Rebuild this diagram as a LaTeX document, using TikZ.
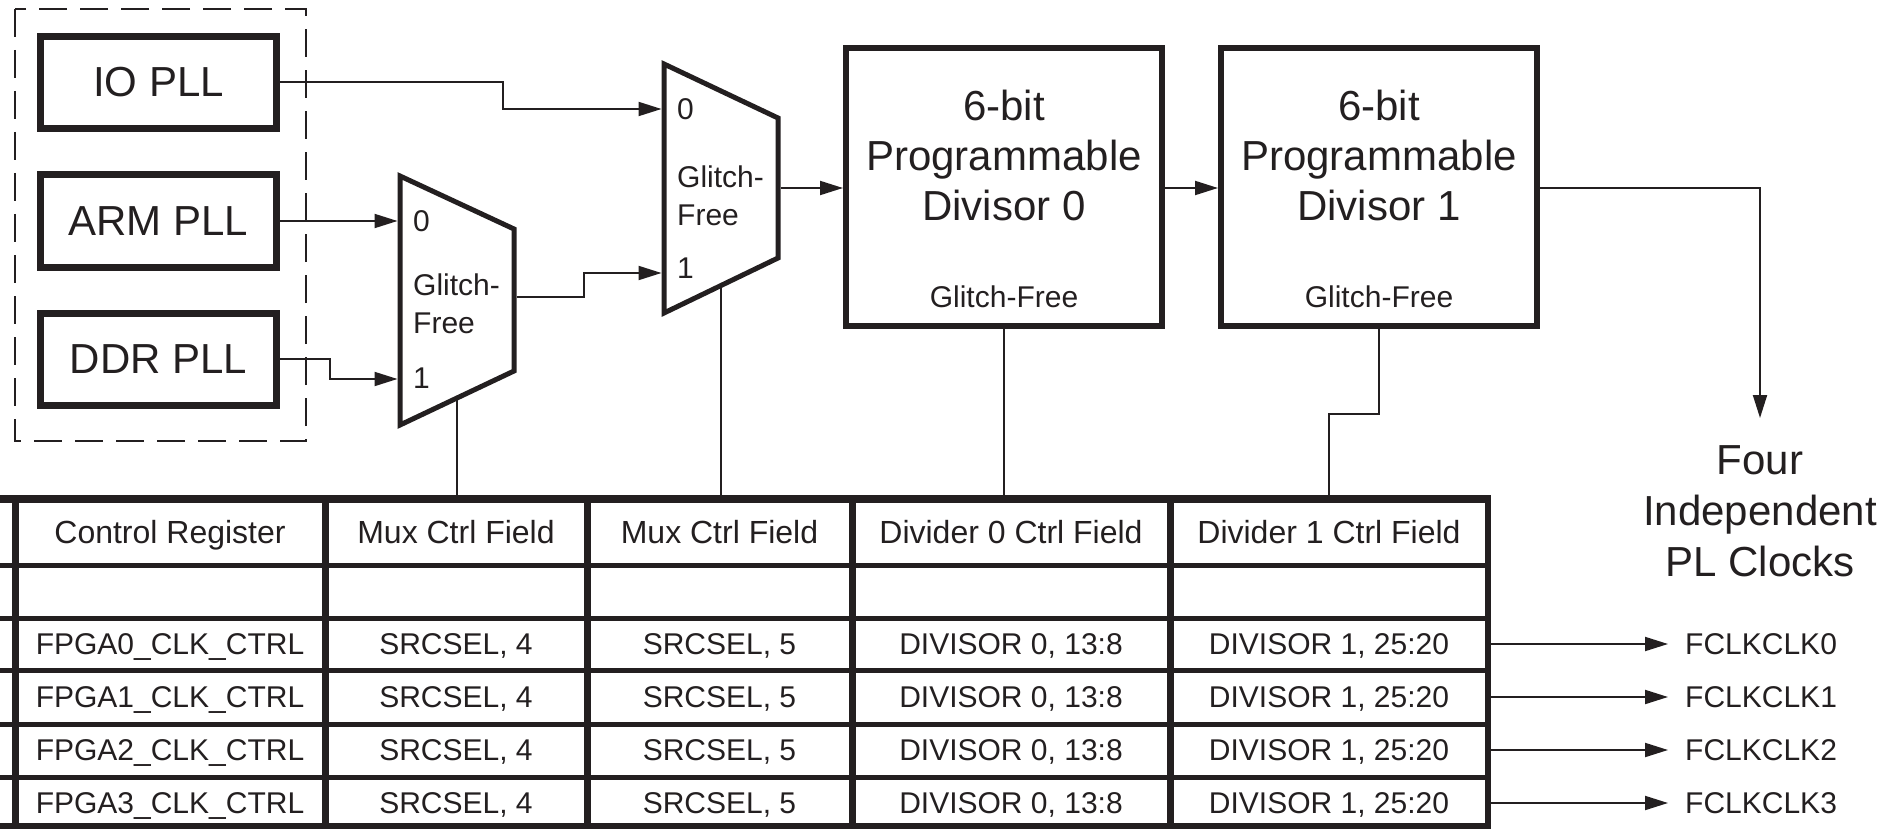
\documentclass[tikz,border=0pt]{standalone}
\usepackage{fontspec}
\setmainfont{Liberation Sans}
\usetikzlibrary{arrows.meta}
\definecolor{ink}{RGB}{35,31,32}
\begin{document}
\begin{tikzpicture}[x=1pt,y=-1pt,
  plain/.style={draw=ink, line width=2pt},
  arr/.style={plain, -{Triangle[length=23pt,width=14pt]}},
  pllbox/.style={draw=ink, line width=7pt, minimum width=236pt, minimum height=92pt, inner sep=0pt, font=\fontsize{42}{50}\selectfont, text=ink},
  divbox/.style={draw=ink, line width=6pt, minimum width=316pt, minimum height=278pt, inner sep=0pt},
  muxshape/.style={draw=ink, line width=5pt, line join=miter},
  big/.style={font=\fontsize{42}{50}\selectfont, align=center, inner sep=0pt, text=ink},
  small/.style={font=\fontsize{30}{37.5}\selectfont, inner sep=0pt, text=ink, text height=21.5pt, text depth=0pt},
  smallml/.style={font=\fontsize{30}{37.5}\selectfont, inner sep=0pt, text=ink, align=left},
  hdr/.style={font=\fontsize{32}{38}\selectfont, inner sep=0pt, text=ink, text height=22.9pt, text depth=0pt},
  cell/.style={font=\fontsize{30}{36}\selectfont, inner sep=0pt, text=ink, text height=21.5pt, text depth=0pt},
  tabthick/.style={draw=ink, line width=7pt},
  tabrow/.style={draw=ink, line width=5pt},
  dashbox/.style={draw=ink, line width=2.5pt, dash pattern=on 28pt off 13pt}
]
\useasboundingbox (0,0) rectangle (1903,829);

% PLL group
\draw[dashbox] (15,9) rectangle (306,441);
\node[pllbox] (io)  at (158.5,82.5) {IO PLL};
\node[pllbox] (arm) at (158.5,221) {ARM PLL};
\node[pllbox] (ddr) at (158.5,359) {DDR PLL};

% Mux 1
\draw[muxshape] (400,176) -- (514,229) -- (514,371) -- (400,425) -- cycle;
\coordinate (m1a) at (397.5,221);
\coordinate (m1b) at (397.5,379);
\coordinate (m1o) at (516.5,297);
\coordinate (m1s) at (457,398);
\node[small, anchor=west] (m1l0) at (413,221) {0};
\node[smallml, anchor=north west] (m1lg) at (413,274) {Glitch-\\Free};
\node[small, anchor=west] (m1l1) at (413,378) {1};

% Mux 2
\draw[muxshape] (664,64) -- (778,118) -- (778,258) -- (664,313) -- cycle;
\coordinate (m2a) at (661.5,109);
\coordinate (m2b) at (661.5,273);
\coordinate (m2o) at (780.5,188);
\coordinate (m2s) at (721,285.5);
\node[small, anchor=west] (m2l0) at (677,109) {0};
\node[smallml, anchor=north west] (m2lg) at (677,166) {Glitch-\\Free};
\node[small, anchor=west] (m2l1) at (677,268) {1};

% Divisors
\node[divbox] (d0) at (1004,187) {};
\node[big, anchor=north] (d0t) at (1004,90) {6-bit\\Programmable\\Divisor 0};
\node[small] (d0g) at (1004,297) {Glitch-Free};
\node[divbox] (d1) at (1379,187) {};
\node[big, anchor=north] (d1t) at (1379,90) {6-bit\\Programmable\\Divisor 1};
\node[small] (d1g) at (1379,297) {Glitch-Free};

% Output label
\node[big, anchor=north, font=\fontsize{42}{51}\selectfont] (four) at (1760,445) {Four\\Independent\\PL Clocks};
\coordinate (clkarr) at (1760,418);

% Connectors
\draw[arr] (io.east) -- ++(223,0) |- (m2a);
\draw[arr] (arm.east) -- (m1a);
\draw[arr] (ddr.east) -- ++(50,0) |- (m1b);
\draw[arr] (m1o) -- ++(67,0) |- (m2b);
\draw[arr] (m2o) -- (m2o -| d0.west);
\draw[arr] (m2o -| d0.east) -- (m2o -| d1.west);
\draw[arr] (m2o -| d1.east) -| (clkarr);

% Table
\coordinate (tabtop) at (0,495);
\coordinate (t4) at (1329,495);
\draw[tabthick, line width=8pt] (0,499) -- (1491,499);
\foreach \yy in {565,618,670,724,777} {\draw[tabrow] (0,\yy) -- (1488,\yy);}
\draw[tabthick, line width=6pt] (0,826) -- (1491,826);
\foreach \xx in {15,325,587,852,1170} {\draw[tabthick] (\xx,499) -- (\xx,829);}
\draw[tabthick, line width=6pt] (1488,495) -- (1488,829);

\node[hdr] (h1) at (170,532) {Control Register};
\node[hdr] (h2) at (456,532) {Mux Ctrl Field};
\node[hdr] (h3) at (719.5,532) {Mux Ctrl Field};
\node[hdr] (h4) at (1011,532) {Divider 0 Ctrl Field};
\node[hdr] (h5) at (1329,532) {Divider 1 Ctrl Field};

\foreach \i/\yy in {0/644,1/697,2/750,3/803} {
  \node[cell] (r\i c1) at (170,\yy) {FPGA\i\_CLK\_CTRL};
  \node[cell] (r\i c2) at (456,\yy) {SRCSEL, 4};
  \node[cell] (r\i c3) at (719.5,\yy) {SRCSEL, 5};
  \node[cell] (r\i c4) at (1011,\yy) {DIVISOR 0, 13:8};
  \node[cell] (r\i c5) at (1329,\yy) {DIVISOR 1, 25:20};
  \coordinate (re\i) at (1491,\yy);
  \node[cell, anchor=west] (fc\i) at (1685,\yy) {FCLKCLK\i};
  \draw[arr] (re\i) -- ([xshift=-17pt]fc\i.west);
}

% Control lines
\draw[plain] (m1s) -- (m1s |- tabtop);
\draw[plain] (m2s) -- (m2s |- tabtop);
\draw[plain] (d0.south) -- (d0.south |- tabtop);
\draw[plain] (d1.south) -- ++(0,85) -| (t4);
\end{tikzpicture}
\end{document}
